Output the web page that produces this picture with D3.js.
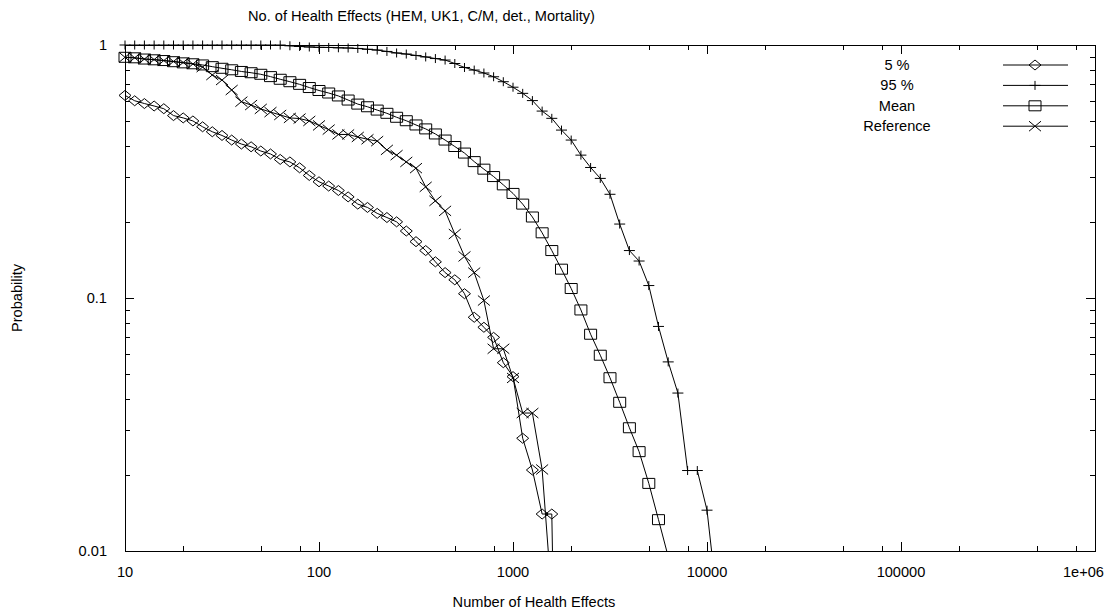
<!DOCTYPE html>
<meta charset="utf-8">
<style>
  body { margin: 0; background: #fff; }
  svg text { font-family: "Liberation Sans", Arial, sans-serif; font-size: 14.6px; fill: #000; }
</style>

<script src="https://d3js.org/d3.v7.min.js"></script>

<svg id="chart" width="1109" height="616"></svg>
<script>

// number of health effects at which every curve is evaluated
var counts = [10, 11.22, 12.59, 14.13, 15.85, 17.78, 19.95, 22.39, 25.12, 28.18,
              31.62, 35.48, 39.81, 44.67, 50.12, 56.23, 63.10, 70.79, 79.43, 89.13,
              100, 112.2, 125.9, 141.3, 158.5, 177.8, 199.5, 223.9, 251.2, 281.8,
              316.2, 354.8, 398.1, 446.7, 501.2, 562.3, 631.0, 707.9, 794.3, 891.3,
              1000, 1122, 1259, 1413, 1585, 1778, 1995, 2239, 2512, 2818,
              3162, 3548, 3981, 4467, 5012, 5623, 6310, 7079, 7943, 8913,
              10000, 11220];

// exceedance probabilities (same order as counts)
var p05 = [0.632, 0.602, 0.587, 0.574, 0.560, 0.526, 0.515, 0.501, 0.475, 0.454,
           0.439, 0.421, 0.406, 0.396, 0.381, 0.371, 0.353, 0.345, 0.327, 0.305,
           0.288, 0.277, 0.266, 0.251, 0.235, 0.228, 0.216, 0.208, 0.200, 0.184,
           0.167, 0.154, 0.139, 0.126, 0.118, 0.104, 0.0839, 0.0766, 0.0699, 0.0555,
           0.0489, 0.0279, 0.0209, 0.0140, 0.0140, 0.0001];

var p95 = [1, 1, 1, 1, 1, 1, 1, 1, 1, 1,
           1, 1, 1, 1, 1, 1, 1, 0.993, 0.987, 0.982,
           0.979, 0.978, 0.975, 0.973, 0.969, 0.962, 0.955, 0.943, 0.930, 0.921,
           0.909, 0.897, 0.884, 0.872, 0.845, 0.815, 0.796, 0.775, 0.749, 0.716,
           0.681, 0.644, 0.603, 0.548, 0.513, 0.461, 0.421, 0.367, 0.328, 0.297,
           0.257, 0.196, 0.154, 0.140, 0.112, 0.0772, 0.0559, 0.0421, 0.0208, 0.0208,
           0.0145, 0.0066];

var pMean = [0.894, 0.890, 0.880, 0.874, 0.868, 0.859, 0.850, 0.843, 0.834, 0.821,
             0.809, 0.798, 0.786, 0.777, 0.766, 0.750, 0.732, 0.716, 0.699, 0.679,
             0.661, 0.646, 0.629, 0.606, 0.584, 0.570, 0.553, 0.537, 0.518, 0.502,
             0.483, 0.466, 0.445, 0.421, 0.397, 0.374, 0.346, 0.323, 0.302, 0.280,
             0.259, 0.235, 0.209, 0.181, 0.154, 0.130, 0.109, 0.0897, 0.0719, 0.0594,
             0.0484, 0.0387, 0.0307, 0.0247, 0.0185, 0.0133, 0.0095];

var pRef = [0.894, 0.890, 0.880, 0.876, 0.868, 0.861, 0.853, 0.841, 0.818, 0.761,
            0.727, 0.664, 0.597, 0.579, 0.559, 0.543, 0.529, 0.515, 0.512, 0.501,
            0.481, 0.463, 0.443, 0.443, 0.433, 0.424, 0.417, 0.385, 0.367, 0.345,
            0.326, 0.275, 0.242, 0.221, 0.179, 0.146, 0.126, 0.0977, 0.063, 0.063,
            0.0483, 0.0351, 0.0351, 0.0210, 0.0065];

var seriesNames = ["5 %", "95 %", "Mean", "Reference"];
var seriesMarks = ["diamond", "plus", "square", "cross"];

var xTickValues = [10, 100, 1000, 10000, 100000, 1000000];
var xTickLabels = ["10", "100", "1000", "10000", "100000", "1e+06"];
var yTickValues = [0.01, 0.1, 1];
var yTickLabels = ["0.01", "0.1", "1"];

var titleText = "No. of Health Effects (HEM, UK1, C/M, det., Mortality)";
var xTitle = "Number of Health Effects";
var yTitle = "Probability";

// The svg
var svg = d3.select("#chart"),
    width = +svg.attr("width"),
    height = +svg.attr("height");

// plot box
var pLeft = 125, pRight = 1095, pTop = 45, pBottom = 551;

var x = d3.scaleLog().domain([10, 1e6]).range([pLeft, pRight]);
var y = d3.scaleLog().domain([0.01, 1]).range([pBottom, pTop]);

svg.append("rect").attr("width", width).attr("height", height).attr("fill", "#fff");

svg.append("clipPath").attr("id", "plotclip")
  .append("rect")
    .attr("x", pLeft).attr("y", pTop)
    .attr("width", pRight - pLeft).attr("height", pBottom - pTop);

// ticks, pointing inward on all four sides
var ticks = svg.append("g")
    .attr("stroke", "#000")
    .attr("stroke-width", 1)
    .attr("shape-rendering", "crispEdges");

var xMinor = [], yMinor = [];
xTickValues.slice(0, -1).forEach(function(d) {
  [2, 5, 8].forEach(function(m) { xMinor.push(d * m); });
});
yTickValues.slice(0, -1).forEach(function(d) {
  [2, 3, 4, 5, 6, 7, 8, 9].forEach(function(m) { yMinor.push(d * m); });
});

function xTick(v, len) {
  var px = Math.round(x(v)) + 0.5;
  ticks.append("line").attr("x1", px).attr("x2", px).attr("y1", pBottom).attr("y2", pBottom - len);
  ticks.append("line").attr("x1", px).attr("x2", px).attr("y1", pTop).attr("y2", pTop + len);
}
function yTick(v, len) {
  var py = Math.round(y(v)) + 0.5;
  ticks.append("line").attr("x1", pLeft).attr("x2", pLeft + len).attr("y1", py).attr("y2", py);
  ticks.append("line").attr("x1", pRight).attr("x2", pRight - len).attr("y1", py).attr("y2", py);
}
xTickValues.forEach(function(v) { xTick(v, 9); });
xMinor.forEach(function(v) { xTick(v, 5); });
yTickValues.forEach(function(v) { yTick(v, 9); });
yMinor.forEach(function(v) { yTick(v, 5); });

// frame
svg.append("rect")
    .attr("x", pLeft + 0.5).attr("y", pTop + 0.5)
    .attr("width", pRight - pLeft).attr("height", pBottom - pTop)
    .attr("fill", "none").attr("stroke", "#000").attr("stroke-width", 1)
    .attr("shape-rendering", "crispEdges");

// tick labels
var xl = svg.append("g").selectAll("text")
  .data(xTickValues)
  .enter().append("text")
    .attr("x", function(d) { return x(d); })
    .attr("y", 577)
    .attr("text-anchor", "middle")
    .text(function(d, i) { return xTickLabels[i]; });
// keep the last label inside the picture
xl.each(function() {
  var w = this.getComputedTextLength();
  var cx = +d3.select(this).attr("x");
  if (cx + w / 2 > width - 5) d3.select(this).attr("x", width - 5 - w / 2);
});

svg.append("g").selectAll("text")
  .data(yTickValues)
  .enter().append("text")
    .attr("x", 107)
    .attr("y", function(d) { return y(d) + 5; })
    .attr("text-anchor", "end")
    .text(function(d, i) { return yTickLabels[i]; });

// titles
svg.append("text").attr("x", 248).attr("y", 21).text(titleText);
svg.append("text").attr("x", 534).attr("y", 607).attr("text-anchor", "middle").text(xTitle);
svg.append("text")
    .attr("transform", "translate(22,298) rotate(-90)")
    .attr("text-anchor", "middle")
    .text(yTitle);

// marker shapes
function markPath(kind, cx, cy) {
  switch (kind) {
    case "diamond":
      return "M" + (cx - 6) + "," + cy + "L" + cx + "," + (cy - 5) + "L" + (cx + 6) + "," + cy + "L" + cx + "," + (cy + 5) + "Z";
    case "plus":
      return "M" + (cx - 5.5) + "," + cy + "H" + (cx + 5.5) + "M" + cx + "," + (cy - 4.5) + "V" + (cy + 4.5);
    case "square":
      return "M" + (cx - 6) + "," + (cy - 5) + "H" + (cx + 6) + "V" + (cy + 5) + "H" + (cx - 6) + "Z";
    default:
      return "M" + (cx - 6) + "," + (cy - 5) + "L" + (cx + 6) + "," + (cy + 5) + "M" + (cx - 6) + "," + (cy + 5) + "L" + (cx + 6) + "," + (cy - 5);
  }
}

var allSeries = [p05, p95, pMean, pRef];

var line = d3.line()
    .x(function(d) { return x(d[0]); })
    .y(function(d) { return y(d[1]); });

var plot = svg.append("g");

allSeries.forEach(function(vals, s) {
  var pts = vals.map(function(p, i) { return [counts[i], p]; });

  plot.append("path")
      .datum(pts)
      .attr("clip-path", "url(#plotclip)")
      .attr("fill", "none")
      .attr("stroke", "#000")
      .attr("stroke-width", 1)
      .attr("d", line);

  plot.append("g").selectAll("path")
    .data(pts.filter(function(d) { return d[1] >= 0.01; }))
    .enter().append("path")
      .attr("fill", "none")
      .attr("stroke", "#000")
      .attr("stroke-width", 1)
      .attr("d", function(d) { return markPath(seriesMarks[s], x(d[0]), y(d[1])); });
});

// legend
var legend = svg.append("g");
seriesNames.forEach(function(name, i) {
  var ly = 65 + i * 20.4;
  legend.append("text")
      .attr("x", 897).attr("y", ly + 5)
      .attr("text-anchor", "middle")
      .text(name);
  legend.append("line")
      .attr("x1", 1003).attr("x2", 1068)
      .attr("y1", ly).attr("y2", ly)
      .attr("stroke", "#000").attr("stroke-width", 1);
  legend.append("path")
      .attr("fill", "none").attr("stroke", "#000").attr("stroke-width", 1)
      .attr("d", markPath(seriesMarks[i], 1035, ly));
});

</script>
